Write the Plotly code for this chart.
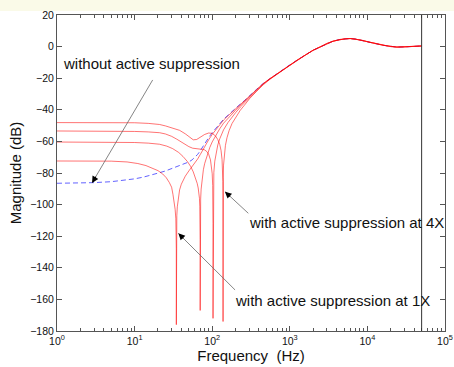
import math
import plotly.graph_objects as go

# ---------------- data ----------------
# shared high-frequency part (all curves coincide above ~2 kHz)
tail_freq = [2000, 2500, 3000, 3600, 4400, 5200, 6000, 7000, 8500, 10500,
             13000, 16000, 20000, 24000, 30000, 38000, 50000]
tail_db = [-2.3, 0.0, 2.0, 3.4, 4.5, 5.0, 5.1, 4.8, 4.0, 2.9,
           1.8, 0.8, 0.0, -0.3, -0.2, 0.1, 0.4]

# without active suppression (blue dashed)
blue_freq = [1, 2, 3, 5, 7, 10, 13, 17, 21, 25, 30, 35, 40, 45, 50, 55, 60, 65, 70, 75,
             80, 90, 100, 110, 125, 140, 160, 180, 200, 230, 260, 305, 370, 453, 550,
             650, 743, 950, 1220, 1600]
blue_db = [-86.5, -86.4, -86.1, -85.5, -84.8, -83.7, -82.6, -81.3, -79.8, -78.7, -77.3,
           -76.2, -75.2, -74.2, -73.0, -71.7, -70.1, -68.2, -66.0, -63.6, -61.4, -57.6,
           -54.5, -51.9, -48.7, -46.0, -43.4, -41.0, -39.2, -36.4, -34.2, -30.8, -27.2,
           -23.4, -20.3, -17.9, -16.0, -12.3, -8.7, -5.2]

# with active suppression at 1X
x1_freq = [1, 3, 5, 8, 11, 14, 17, 20, 23, 25.6, 28, 30, 31.2, 32.3, 33.3, 34.0, 34.3,
           34.45, 34.5, 34.55, 34.7, 35.0, 35.5, 36.2, 37, 38, 40, 42, 45, 50, 55, 60,
           65, 70, 80, 90, 100, 110, 125, 140, 160, 200, 260, 305, 370, 453, 550, 743,
           950, 1220, 1600]
x1_db = [-72.4, -72.4, -72.5, -73.0, -74.0, -75.3, -76.8, -78.5, -80.6, -83.0, -86.0,
         -89.0, -93.5, -98.0, -103, -109, -116, -128, -176, -128, -112, -107, -101.4,
         -96.9, -93.7, -90.7, -87.1, -84.6, -82.0, -78.7, -76.1, -73.6, -71.1, -68.4,
         -63.2, -59.0, -55.6, -52.8, -49.4, -46.5, -43.8, -39.5, -34.35, -30.9, -27.25,
         -23.45, -20.35, -16.05, -12.35, -8.72, -5.22]

# with active suppression at 2X
x2_freq = [1, 3, 6, 10, 15, 21, 26, 31, 37, 42, 48, 53, 57, 61, 64, 66, 67.5, 68.5,
           69.2, 69.6, 69.85, 70, 70.15, 70.5, 71, 72, 74, 77, 80, 85, 90, 93, 100, 110,
           125, 140, 160, 180, 200, 230, 260, 305, 370, 453, 550, 743, 950, 1220, 1600]
x2_db = [-60.4, -60.4, -60.5, -60.7, -61.1, -61.8, -63.0, -64.6, -67.0, -69.5, -72.8,
         -76.0, -79.3, -83.0, -86.5, -89.5, -93, -96, -101, -110, -122, -167, -115, -103,
         -96.5, -90.2, -83.7, -77.9, -74.0, -69.4, -65.7, -63.9, -60.35, -56.4, -52.0,
         -48.5, -45.25, -42.4, -40.3, -37.25, -34.85, -31.3, -27.5, -23.6, -20.45, -16.1,
         -12.4, -8.75, -5.25]

# with active suppression at 3X
x3_freq = [1, 3, 6, 10, 15, 21, 25, 30, 35, 42, 50, 56, 63, 70, 75, 80, 85, 90, 95, 98,
           100, 101.5, 102.1, 102.35, 102.5, 102.65, 102.9, 103.5, 105, 108, 112, 118,
           125, 140, 160, 180, 200, 230, 260, 305, 370, 453, 550, 650, 743, 950, 1220,
           1600]
x3_db = [-53.4, -53.4, -53.5, -53.7, -54.0, -54.5, -55.3, -56.8, -58.6, -61.2, -63.3,
         -64.3, -64.8, -64.9, -65.0, -65.4, -66.4, -68.1, -71.7, -75.6, -80.4, -88, -98,
         -112, -172, -112, -96.4, -88.5, -79.7, -72.5, -67.3, -62.3, -58.4, -52.7, -48.0,
         -44.4, -41.85, -38.3, -35.7, -31.85, -27.9, -23.86, -20.6, -18.1, -16.2, -12.4,
         -8.78, -5.24]

# with active suppression at 4X
x4_freq = [1, 5, 10, 15, 21, 25, 30, 38, 45, 50, 57, 63, 70, 80, 90, 100, 110, 118, 125,
           130, 134, 136, 137.2, 137.7, 137.9, 138, 138.1, 138.4, 139, 140, 143, 148, 155,
           165, 180, 200, 230, 260, 305, 370, 453, 550, 650, 743, 950, 1220, 1600]
x4_db = [-48.1, -48.1, -48.2, -48.6, -49.3, -50.2, -51.3, -53.0, -55.2, -57.0, -59.0,
         -58.8, -57.4, -55.6, -54.7, -54.9, -56.5, -58.8, -61.9, -65.7, -71.5, -77.3,
         -85.3, -94, -110, -174, -110, -90.5, -82.6, -75.0, -68.8, -62.6, -57.7, -53.2,
         -48.7, -44.8, -40.3, -37.1, -32.8, -28.5, -24.25, -20.86, -18.3, -16.3, -12.5,
         -8.8, -5.26]

cutoff_freq = 50000

x_tick_vals = [1, 10, 100, 1000, 10000, 100000]
x_tick_text = ["10<sup>0</sup>", "10<sup>1</sup>", "10<sup>2</sup>",
               "10<sup>3</sup>", "10<sup>4</sup>", "10<sup>5</sup>"]
y_tick_vals = [-180, -160, -140, -120, -100, -80, -60, -40, -20, 0, 20]

label_texts = ["without active suppression",
               "with active suppression at 4X",
               "with active suppression at 1X"]
label_freq = [16.6, 5400, 3550]
label_db = [-10.6, -111.6, -160.4]
# arrows: (tip freq, tip dB) <- (tail freq, tail dB)
arrow_tip_freq = [2.83, 146, 36.6]
arrow_tip_db = [-86.3, -91.8, -118.2]
arrow_tail_freq = [17.1, 292, 197]
arrow_tail_db = [-21.1, -105.5, -154.0]

# ---------------- figure ----------------
W, H = 454, 367
ML, MR, MT, MB = 57, 9, 15, 36
PX_PER_DEC = (W - ML - MR) / 5.0
PX_PER_DB = (H - MT - MB) / 200.0
FONT = "Liberation Sans, Arial, sans-serif"

fig = go.Figure()
fig.add_trace(go.Scatter(x=blue_freq + tail_freq, y=blue_db + tail_db, mode="lines",
                         line=dict(color="rgba(60,60,255,0.8)", width=1, dash="5px,3px"),
                         hoverinfo="skip"))
for fr, db in [(x1_freq, x1_db), (x2_freq, x2_db), (x3_freq, x3_db), (x4_freq, x4_db)]:
    fig.add_trace(go.Scatter(x=fr + tail_freq, y=db + tail_db, mode="lines",
                             line=dict(color="rgba(255,0,0,0.55)", width=1),
                             hoverinfo="skip"))

axis_col = "#555555"
fig.update_xaxes(type="log", range=[0, 5], tickmode="array", tickvals=x_tick_vals,
                 ticktext=x_tick_text, ticks="inside", ticklen=5, tickcolor=axis_col,
                 showline=True, linecolor=axis_col, linewidth=1, mirror="ticks",
                 showgrid=False, zeroline=False, automargin=False,
                 minor=dict(tickmode="array",
                            tickvals=[k * 10 ** e for e in range(5) for k in range(2, 10)],
                            ticks="inside", ticklen=3, tickcolor=axis_col, showgrid=False),
                 tickfont=dict(family=FONT, size=10.5, color="#111"),
                 title=dict(text="Frequency\u00a0 (Hz)", standoff=3,
                            font=dict(family=FONT, size=15, color="#111")))
fig.update_yaxes(range=[-180, 20], tickmode="array", tickvals=y_tick_vals,
                 ticks="inside", ticklen=5, tickcolor=axis_col,
                 showline=True, linecolor=axis_col, linewidth=1, mirror="ticks",
                 showgrid=False, zeroline=False, automargin=False,
                 tickfont=dict(family=FONT, size=10.5, color="#111"),
                 title=dict(text="Magnitude (dB)", standoff=4,
                            font=dict(family=FONT, size=15, color="#111")))

annotations = []
shapes = [
    # light cream strip at the very top of the image
    dict(type="rect", xref="paper", yref="paper",
         x0=-ML / (W - ML - MR), x1=1 + MR / (W - ML - MR),
         y0=1 + (MT - 11) / (H - MT - MB), y1=1 + MT / (H - MT - MB),
         fillcolor="#fafae8", line=dict(width=0), layer="below"),
    # vertical marker line at the cutoff frequency (shapes take data values)
    dict(type="line", xref="x", yref="paper", x0=cutoff_freq, x1=cutoff_freq,
         y0=0, y1=1, line=dict(color="#333333", width=1)),
]
for t, f, d in zip(label_texts, label_freq, label_db):
    annotations.append(dict(x=math.log10(f), y=d, xref="x", yref="y", text=t,
                            showarrow=False, xanchor="center", yanchor="middle",
                            font=dict(family=FONT, size=15, color="#111")))
for tf, td, af, ad in zip(arrow_tip_freq, arrow_tip_db, arrow_tail_freq, arrow_tail_db):
    # gray shaft (shape: data values)
    shapes.append(dict(type="line", xref="x", yref="y", x0=af, y0=ad, x1=tf, y1=td,
                       line=dict(color="#666666", width=0.8)))
    # black head (annotation: log10 values on the log axis)
    tx, ax = math.log10(tf), math.log10(af)
    dx_px = (ax - tx) * PX_PER_DEC
    dy_px = (ad - td) * PX_PER_DB
    frac = 9.0 / math.hypot(dx_px, dy_px)
    annotations.append(dict(x=tx, y=td, ax=tx + frac * (ax - tx), ay=td + frac * (ad - td),
                            xref="x", yref="y", axref="x", ayref="y", text="",
                            showarrow=True, arrowhead=2, arrowsize=1.1, arrowwidth=1.2,
                            arrowcolor="black"))

fig.update_layout(width=W, height=H, margin=dict(l=ML, r=MR, t=MT, b=MB),
                  paper_bgcolor="white", plot_bgcolor="white", showlegend=False,
                  annotations=annotations, shapes=shapes)

fig.write_html("out.html", config={"displayModeBar": False},
               post_script="document.body.style.margin='0px';"
                           "document.body.style.padding='0px';"
                           "document.body.style.overflow='hidden';")
